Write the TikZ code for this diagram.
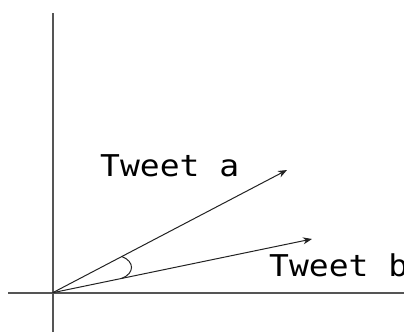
\documentclass[tikz,border=0pt]{standalone}
\usepackage{fontspec}
\usepackage{tikz}
\usetikzlibrary{calc,arrows.meta}
\newfontfamily\tweetfont[FakeStretch=1.1]{DejaVu Sans Mono}
\definecolor{axisgray}{HTML}{555555}
\definecolor{vecline}{HTML}{222222}
\tikzset{
  axis/.style={draw=axisgray, line width=1.6pt},
  vec/.style={-{Stealth[length=9pt,width=7pt]}, draw=vecline, line width=1pt},
  anglemark/.style={draw=vecline, line width=1pt},
  tweetlabel/.style={font=\tweetfont\fontsize{30}{30}\selectfont, anchor=base west, inner sep=0pt},
}

\begin{document}
\begin{tikzpicture}[x=1pt, y=-1pt]
  \useasboundingbox (0,0) rectangle (404,332);
  % axes
  \coordinate (o) at (52.7,292.7);
  \coordinate (ytop) at (52.7,13);
  \coordinate (ybot) at (52.7,332);
  \coordinate (xleft) at (8,292.7);
  \coordinate (xright) at (404,292.7);
  \draw[axis] (ybot) -- (ytop);
  \draw[axis] (xleft) -- (xright);
  % vectors
  \coordinate (ta) at (287,170);
  \coordinate (tb) at (312,239);
  \draw[vec] (o) -- (ta);
  \draw[vec] (o) -- (tb);
  % angle
  \coordinate (pa) at ($(o)!0.295!(ta)$);
  \coordinate (pb) at ($(o)!0.266!(tb)$);
  \draw[anglemark] (pa) .. controls ($(pa)+(13,5)$) and ($(pb)+(13,-5)$) .. (pb);
  % labels
  \node[tweetlabel] (la) at (100,176.7) {Tweet a};
  \node[tweetlabel] (lb) at (269,276.7) {Tweet b};
\end{tikzpicture}
\end{document}
